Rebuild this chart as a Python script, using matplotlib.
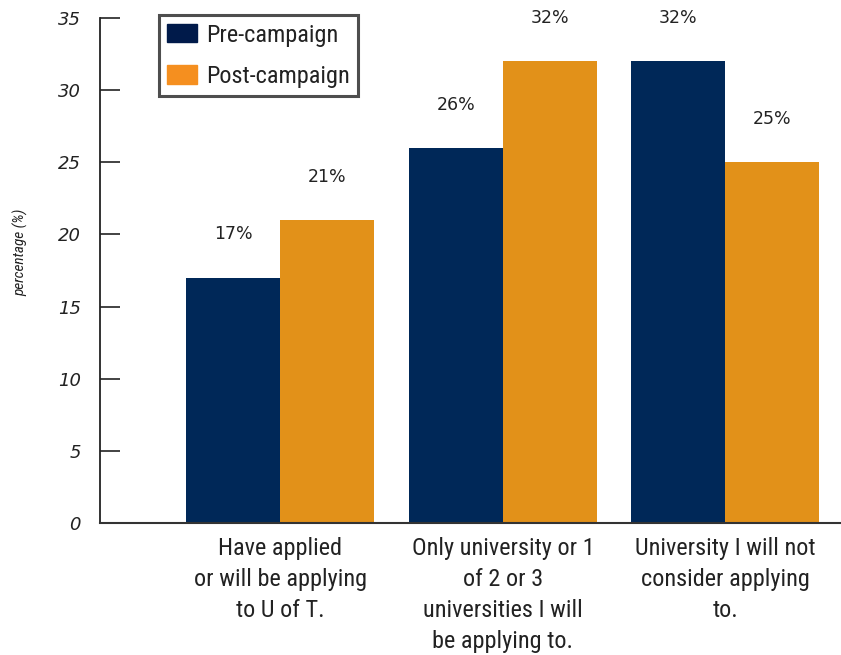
import matplotlib
matplotlib.use("Agg")
import matplotlib.pyplot as plt
import numpy as np
from matplotlib.patches import Patch

# data
categories = ["Have applied\nor will be applying\nto U of T.",
              "Only university or 1\nof 2 or 3\nuniversities I will\nbe applying to.",
              "University I will not\nconsider applying\nto."]
pre_campaign = [17, 26, 32]
post_campaign = [21, 32, 25]
series_names = ["Pre-campaign", "Post-campaign"]

navy = "#002858"
orange = "#e29119"
legend_colors = ["#001a4a", "#f58f1f"]

narrow = ["Roboto Condensed", "DejaVu Sans"]

fig = plt.figure(figsize=(8.41, 6.55), dpi=100)
ax = fig.add_axes([0.1195, 0.2015, 0.8805, 0.771])

x = np.arange(len(categories))
w = 0.4225
b1 = ax.bar(x - w / 2, pre_campaign, w, color=navy)
b2 = ax.bar(x + w / 2, post_campaign, w, color=orange)

for bars, vals in [(b1, pre_campaign), (b2, post_campaign)]:
    for r, v in zip(bars, vals):
        ax.text(r.get_x() + r.get_width() / 2, v + 3.0, f"{v}%",
                ha="center", va="center", fontsize=12.5, color="#222222",
                family="DejaVu Sans")

ax.set_xlim(-0.809, 2.52)
ax.set_ylim(0, 35)
ax.set_yticks(range(0, 36, 5))
ax.set_yticklabels([str(t) for t in range(0, 36, 5)], fontstyle="italic",
                   fontsize=13, family="DejaVu Sans")
ax.tick_params(axis="y", direction="in", length=14.5, width=1.2, pad=14,
               colors="#222222")
ax.tick_params(axis="x", length=0, pad=10)
ax.set_xticks(x)
ax.set_xticklabels(categories, fontsize=17.5, family=narrow, color="#222222",
                   linespacing=1.45, va="top")

for s in ["top", "right"]:
    ax.spines[s].set_visible(False)
ax.spines["left"].set_linewidth(1.3)
ax.spines["bottom"].set_linewidth(1.5)
ax.spines["left"].set_color("#222222")
ax.spines["bottom"].set_color("#333333")

fig.text(0.025, 0.615, "percentage (%)", rotation=90, fontsize=11,
         fontstyle="italic", family=narrow,
         ha="center", va="center", color="#222222")

handles = [Patch(color=c, label=n) for c, n in zip(legend_colors, series_names)]
leg = ax.legend(handles=handles, loc="upper left", bbox_to_anchor=(0.0796, 1.005),
                prop={"family": narrow, "size": 17.5}, frameon=True,
                fancybox=False, handlelength=1.2, handleheight=0.8,
                handletextpad=0.4, borderpad=0.33, labelspacing=0.75,
                borderaxespad=0)
leg.get_frame().set_edgecolor("#222222")
leg.get_frame().set_linewidth(2.2)
for t in leg.get_texts():
    t.set_color("#222222")

fig.savefig("out.png", dpi=100)
